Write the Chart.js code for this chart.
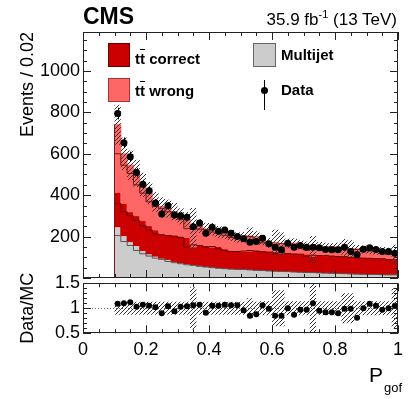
<!DOCTYPE html>
<html>
<head>
<meta charset="utf-8">
<script src="https://cdn.jsdelivr.net/npm/chart.js@4.4.1/dist/chart.umd.min.js"></script>
<style>
  html, body { margin: 0; padding: 0; background: #fff; }
  #wrap { position: relative; width: 415px; height: 399px; overflow: hidden;
          font-family: "Liberation Sans", Arial, sans-serif; color: #000; }
  canvas { position: absolute; left: 0; }
  #main { top: 0; }
  #ratio { top: 270px; }
  .txt { position: absolute; white-space: nowrap; line-height: 1; }
  .leg { font-size: 15px; font-weight: bold; }
  .ob { text-decoration: overline; }
  .box { position: absolute; box-sizing: border-box; }
</style>
</head>
<body>
<div id="wrap">
  <canvas id="main" width="415" height="282"></canvas>
  <canvas id="ratio" width="415" height="129"></canvas>

  <div class="txt" style="left:83px;top:4.5px;font-size:23px;font-weight:bold;">CMS</div>
  <div class="txt" style="right:18px;top:10.6px;font-size:17px;">35.9 fb<span style="font-size:11px;position:relative;top:-7px;">-1</span> (13 TeV)</div>

  <div class="box" style="left:108px;top:43px;width:22px;height:24px;background:#cc0000;border:1px solid #660000;"></div>
  <div class="txt leg" style="left:135px;top:50.6px;">t<span class="ob">t</span> correct</div>
  <div class="box" style="left:108px;top:78px;width:22px;height:24px;background:#ff6666;border:1px solid #aa3333;"></div>
  <div class="txt leg" style="left:135px;top:83.3px;">t<span class="ob">t</span> wrong</div>
  <div class="box" style="left:253px;top:43px;width:23px;height:24px;background:#cccccc;border:1px solid #666;"></div>
  <div class="txt leg" style="left:281px;top:46.6px;">Multijet</div>
  <div class="box" style="left:263.5px;top:80px;width:1px;height:30px;background:#000;"></div>
  <div class="box" style="left:260.5px;top:87px;width:7px;height:7px;border-radius:50%;background:#000;"></div>
  <div class="txt leg" style="left:281px;top:82.3px;">Data</div>

  <div class="txt" style="left:369px;top:364.3px;font-size:21px;">P</div>
  <div class="txt" style="left:384px;top:380.5px;font-size:13px;">gof</div>
</div>

<script>
// binning of P_gof
const binLow = 0.1;
const binWidth = 0.02;

// stacked MC components, events per bin
const multijet = [248, 205, 176, 157, 133, 117, 106, 96, 90, 80, 74, 69, 64, 61, 56, 53, 50, 47, 45, 43,
                  42, 41, 39, 37, 36, 34, 33, 32, 31, 29, 28, 27, 26, 25, 24, 23, 22, 21, 20, 19,
                  18, 17, 17, 16, 16];
const ttCorrect = [165, 155, 144, 144, 144, 136, 126, 117, 118, 125, 128, 126, 86, 99, 101, 96, 102, 94, 88, 85,
                   86, 89, 94, 93, 91, 91, 87, 90, 87, 87, 87, 78, 84, 83, 84, 83, 82, 82, 80, 79,
                   78, 78, 77, 77, 72];
const ttWrong = [327, 240, 225, 204, 173, 157, 136, 132, 127, 115, 96, 87, 88, 90, 79, 86, 70, 77, 73, 67,
                 69, 73, 67, 53, 43, 47, 42, 45, 50, 44, 39, 30, 43, 42, 40, 44, 41, 37, 40, 40,
                 38, 36, 38, 35, 27];
const dataCounts = [794, 653, 586, 509, 453, 421, 362, 309, 349, 304, 301, 293, 248, 266, 216, 245, 226, 232, 216, 200,
                    189, 173, 176, 192, 165, 149, 136, 168, 149, 157, 149, 149, 146, 138, 136, 136, 149, 128, 114, 139,
                    146, 138, 128, 128, 120];
// relative MC uncertainty per bin (hatched band)
const mcUnc = [0.13, 0.13, 0.13, 0.13, 0.13, 0.13, 0.13, 0.13, 0.13, 0.13, 0.13, 0.13, 0.42, 0.13, 0.13, 0.13, 0.13, 0.13, 0.13, 0.13,
               0.13, 0.2, 0.13, 0.14, 0.14, 0.36, 0.36, 0.14, 0.14, 0.14, 0.14, 0.5, 0.14, 0.14, 0.14, 0.14, 0.3, 0.3, 0.14, 0.14,
               0.14, 0.14, 0.14, 0.14, 0.4];
// Data/MC as shown in the lower panel
const ratioVals = [1.09, 1.10, 1.12, 1.03, 1.07, 1.05, 1.02, 0.90, 1.04, 0.94, 1.03, 1.04, 1.06, 1.07, 0.91, 1.05, 1.05, 1.07, 1.06, 1.06,
                   0.96, 0.85, 0.88, 1.06, 0.99, 0.85, 0.85, 1.00, 0.87, 0.97, 0.97, 1.10, 0.95, 0.92, 0.92, 0.90, 0.99, 0.99, 0.81, 1.00,
                   1.09, 1.05, 0.97, 1.00, 1.05];

const yMainTicks = [200, 400, 600, 800, 1000];
const xTicks = [0, 0.2, 0.4, 0.6, 0.8, 1];
const yRatioTicks = [0.5, 1, 1.5];

Chart.defaults.font.family = '"Liberation Sans", Arial, sans-serif';
Chart.defaults.color = '#000';

const nBins = multijet.length;
const edges = Array.from({length: nBins + 1}, (_, i) => +(binLow + i * binWidth).toFixed(3));
const centers = edges.slice(0, -1).map(e => +(e + binWidth / 2).toFixed(3));

function addUp(...arrs){
  return arrs[0].map((_, i) => arrs.reduce((s, a) => s + a[i], 0));
}
const topMulti = multijet;
const topCorrect = addUp(multijet, ttCorrect);
const topTotal = addUp(multijet, ttCorrect, ttWrong);

// floating bars [lo, hi] at bin centres
function band(lo, hi){
  return centers.map((c, i) => ({x: c, y: [lo[i], hi[i]]}));
}
// step outline starting from zero at the first edge
function stepPts(vals){
  const pts = [{x: edges[0], y: 0}];
  vals.forEach((v, i) => pts.push({x: edges[i], y: v}));
  pts.push({x: edges[nBins], y: vals[nBins - 1]});
  return pts;
}

function hatch(color){
  const c = document.createElement('canvas');
  c.width = 4; c.height = 4;
  const g = c.getContext('2d');
  g.strokeStyle = color;
  g.lineWidth = 1;
  g.beginPath();
  g.moveTo(0, 4); g.lineTo(4, 0);
  g.moveTo(-1, 1); g.lineTo(1, -1);
  g.moveTo(3, 5); g.lineTo(5, 3);
  g.stroke();
  return g.createPattern(c, 'repeat');
}

// ROOT-like frame with inward ticks on all four sides
const frameTicks = {
  id: 'frameTicks',
  afterDraw(chart, args, o){
    const {ctx, chartArea: a, scales: {x, y}} = chart;
    ctx.save();
    ctx.strokeStyle = '#222';
    ctx.lineWidth = 1;
    ctx.beginPath();
    const nx = Math.round((x.max - x.min) / o.xMinor);
    for(let i = 0; i <= nx; i++){
      const v = x.min + i * o.xMinor;
      const major = Math.abs(v / o.xMajor - Math.round(v / o.xMajor)) < 1e-6;
      const L = major ? o.major : o.minor;
      const px = Math.round(x.getPixelForValue(v)) + 0.5;
      ctx.moveTo(px, a.bottom); ctx.lineTo(px, a.bottom - L);
      ctx.moveTo(px, a.top); ctx.lineTo(px, a.top + L);
    }
    const ny = Math.floor((y.max - y.min) / o.yMinor + 1e-6);
    for(let i = 0; i <= ny; i++){
      const v = y.min + i * o.yMinor;
      const major = Math.abs((v - o.yBase) / o.yMajor - Math.round((v - o.yBase) / o.yMajor)) < 1e-6;
      const L = major ? o.major : o.minor;
      const py = Math.round(y.getPixelForValue(v)) + 0.5;
      ctx.moveTo(a.left, py); ctx.lineTo(a.left + L, py);
      ctx.moveTo(a.right, py); ctx.lineTo(a.right - L, py);
    }
    ctx.stroke();
    ctx.strokeRect(Math.round(a.left) + 0.5, Math.round(a.top) + 0.5,
                   Math.round(a.right - a.left) - 1, Math.round(a.bottom - a.top) - 1);
    ctx.restore();
  }
};

const dataErrors = {
  id: 'dataErrors',
  afterDatasetsDraw(chart){
    const {ctx, scales: {x, y}} = chart;
    ctx.save();
    ctx.strokeStyle = '#000';
    ctx.lineWidth = 1;
    ctx.beginPath();
    dataCounts.forEach((n, i) => {
      const px = Math.round(x.getPixelForValue(centers[i])) + 0.5;
      const e = Math.sqrt(n);
      ctx.moveTo(px, y.getPixelForValue(n + e));
      ctx.lineTo(px, y.getPixelForValue(n - e));
    });
    ctx.stroke();
    ctx.restore();
  }
};

const unityLine = {
  id: 'unityLine',
  beforeDatasetsDraw(chart){
    const {ctx, chartArea: a, scales: {y}} = chart;
    const py = Math.round(y.getPixelForValue(1)) + 0.5;
    ctx.save();
    ctx.strokeStyle = '#666';
    ctx.setLineDash([1, 2]);
    ctx.beginPath();
    ctx.moveTo(a.left, py); ctx.lineTo(a.right, py);
    ctx.stroke();
    ctx.restore();
  }
};

const barBase = {type: 'bar', grouped: false, barPercentage: 1, categoryPercentage: 1, borderWidth: 0, inflateAmount: 0.5};
const outline = {type: 'line', stepped: 'after', pointRadius: 0, borderWidth: 1, fill: false, tension: 0};
const hatchFill = hatch('#333');
const zeros = multijet.map(() => 0);

new Chart(document.getElementById('main'), {
  type: 'bar',
  data: {
    datasets: [
      {...barBase, label: 'Multijet', data: band(zeros, topMulti), backgroundColor: '#cccccc', order: 12},
      {...barBase, label: 'tt correct', data: band(topMulti, topCorrect), backgroundColor: '#cc0000', order: 11},
      {...barBase, label: 'tt wrong', data: band(topCorrect, topTotal), backgroundColor: '#ff6666', order: 10},
      {...outline, data: stepPts(topMulti), borderColor: '#555555', order: 7},
      {...outline, data: stepPts(topCorrect), borderColor: '#600000', order: 6},
      {...outline, data: stepPts(topTotal), borderColor: '#7a1515', order: 5},
      {...barBase, label: 'unc', inflateAmount: 0,
       data: band(topTotal.map((t, i) => t * (1 - mcUnc[i])), topTotal.map((t, i) => t * (1 + mcUnc[i]))),
       backgroundColor: hatchFill, order: 2},
      {type: 'line', label: 'Data', data: centers.map((c, i) => ({x: c, y: dataCounts[i]})), showLine: false,
       pointRadius: 3.5, pointBackgroundColor: '#000', pointBorderWidth: 0, order: 1}
    ]
  },
  options: {
    responsive: false, animation: false, devicePixelRatio: 1,
    layout: {padding: {left: 0, right: 17, top: 32, bottom: 2.6}},
    plugins: {
      legend: {display: false}, tooltip: {enabled: false},
      frameTicks: {xMajor: 0.2, xMinor: 0.05, yMajor: 200, yMinor: 50, yBase: 0, major: 8, minor: 4}
    },
    scales: {
      x: {type: 'linear', min: 0, max: 1, offset: false, display: false},
      y: {
        type: 'linear', min: 0, max: 1188,
        afterBuildTicks: s => { s.ticks = yMainTicks.map(v => ({value: v})); },
        afterFit: s => { s.width = 83; s.paddingTop = 0; s.paddingBottom = 0; },
        grid: {display: false, drawTicks: false}, border: {display: false},
        ticks: {font: {size: 18}, padding: 3, callback: v => String(v)},
        title: {display: true, text: 'Events / 0.02', align: 'end', font: {size: 18}, padding: {top: 17, bottom: 0}}
      }
    }
  },
  plugins: [frameTicks, dataErrors]
});

new Chart(document.getElementById('ratio'), {
  type: 'bar',
  data: {
    datasets: [
      {...barBase, label: 'unc', inflateAmount: 0,
       data: band(mcUnc.map(u => 1 - u), mcUnc.map(u => 1 + u)), backgroundColor: hatchFill, order: 2},
      {type: 'line', label: 'Data/MC', data: centers.map((c, i) => ({x: c, y: ratioVals[i]})), showLine: false,
       pointRadius: 3, pointBackgroundColor: '#000', pointBorderWidth: 0, order: 1}
    ]
  },
  options: {
    responsive: false, animation: false, devicePixelRatio: 1,
    layout: {padding: {left: 0, right: 17, top: 13.3, bottom: 0}},
    plugins: {
      legend: {display: false}, tooltip: {enabled: false},
      frameTicks: {xMajor: 0.2, xMinor: 0.05, yMajor: 0.5, yMinor: 0.1, yBase: 0.5, major: 8, minor: 4}
    },
    scales: {
      x: {
        type: 'linear', min: 0, max: 1, offset: false,
        afterBuildTicks: s => { s.ticks = xTicks.map(v => ({value: v})); },
        afterFit: s => { s.height = 65.7; },
        grid: {display: false, drawTicks: false}, border: {display: false},
        ticks: {font: {size: 18}, padding: 6, maxRotation: 0, autoSkip: false, callback: v => String(v)}
      },
      y: {
        type: 'linear', min: 0.5, max: 1.5,
        afterBuildTicks: s => { s.ticks = yRatioTicks.map(v => ({value: v})); },
        afterFit: s => { s.width = 83; s.paddingTop = 0; s.paddingBottom = 0; },
        grid: {display: false, drawTicks: false}, border: {display: false},
        ticks: {font: {size: 18}, padding: 3, callback: v => String(v)},
        title: {display: true, text: 'Data/MC', align: 'center', font: {size: 18}, padding: {top: 17, bottom: 0}}
      }
    }
  },
  plugins: [frameTicks, unityLine]
});
</script>
</body>
</html>
